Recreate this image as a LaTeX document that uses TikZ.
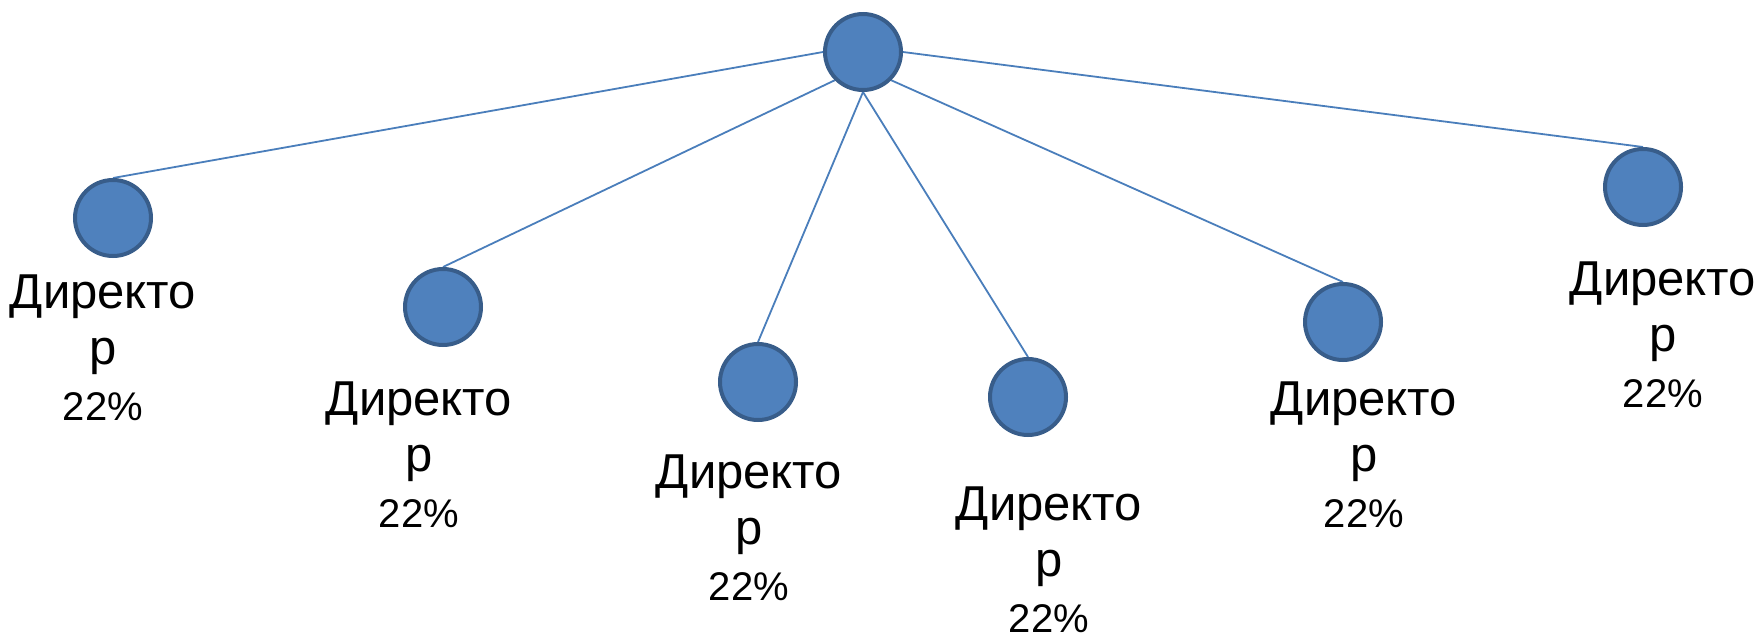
\documentclass[tikz,border=0pt]{standalone}
\usepackage{fontspec}
\setmainfont{Liberation Sans}
\usetikzlibrary{positioning,backgrounds}
\definecolor{officeblue}{HTML}{4F81BD}
\definecolor{officedark}{HTML}{385D8A}
\definecolor{linkblue}{HTML}{4A7EBB}
\newcommand{\sharetext}{Директо\\р\\{\fontsize{40}{56}\selectfont 22\%}}

\begin{document}
\begin{tikzpicture}[
  x=1pt, y=-1pt,
  personnode/.style={
    circle,
    draw=officedark,
    fill=officeblue,
    line width=4pt,
    minimum size=76pt,
    inner sep=0pt
  },
  personlabel/.style={
    font=\fontsize{49}{56}\selectfont,
    align=center,
    inner sep=0pt,
    anchor=north
  },
  linkline/.style={
    draw=linkblue,
    line width=1.8pt
  }
]
  \useasboundingbox (0,0) rectangle (1760,635);

  % ----------------------------------------------------
  % ROOT AND SIX DIRECTORS
  % ----------------------------------------------------
  \node[personnode] (root) at (863, 52) {};

  \node[personnode] (dir_1) at (113, 218) {};
  \node[personnode] (dir_2) at (443, 307) {};
  \node[personnode] (dir_3) at (758, 382) {};
  \node[personnode] (dir_4) at (1028, 397) {};
  \node[personnode] (dir_5) at (1343, 322) {};
  \node[personnode] (dir_6) at (1643, 187) {};

  % ----------------------------------------------------
  % LABELS
  % ----------------------------------------------------
  \node[personlabel] (lbl_1) at (103, 275) {\sharetext};
  \node[personlabel] (lbl_2) at (419, 382) {\sharetext};
  \node[personlabel] (lbl_3) at (749, 455) {\sharetext};
  \node[personlabel] (lbl_4) at (1049, 487) {\sharetext};
  \node[personlabel] (lbl_5) at (1364, 382) {\sharetext};
  \node[personlabel] (lbl_6) at (1663, 262) {\sharetext};

  % Connectors (behind the circles)
  \begin{scope}[on background layer]
    \draw[linkline] (root.west) -- (dir_1.north);
    \draw[linkline] (root.south west) -- (dir_2.north);
    \draw[linkline] (root.south) -- (dir_3.north);
    \draw[linkline] (root.south) -- (dir_4.north);
    \draw[linkline] (root.south east) -- (dir_5.north);
    \draw[linkline] (root.east) -- (dir_6.north);
  \end{scope}

\end{tikzpicture}
\end{document}
